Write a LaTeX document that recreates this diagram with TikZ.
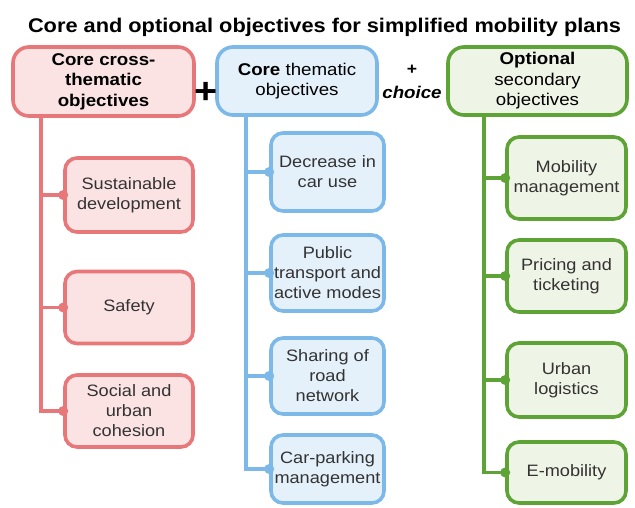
\documentclass[tikz,border=0pt]{standalone}
\usepackage{fontspec}
\setmainfont{Liberation Sans}[FakeStretch=1.1]
\definecolor{redB}{HTML}{E8777A}
\definecolor{redF}{HTML}{FBE2E3}
\definecolor{blueB}{HTML}{7CB9E8}
\definecolor{blueF}{HTML}{E4F0FA}
\definecolor{greenB}{HTML}{5EA335}
\definecolor{greenF}{HTML}{EEF4E6}
\definecolor{txt}{HTML}{333333}
\tikzset{
  box/.style={rounded corners=12pt, line width=3.6pt, align=center, inner sep=0pt,
    font=\fontsize{16.5}{20}\selectfont, text=txt},
  head/.style={box, rounded corners=16pt, font=\fontsize{17}{20.5}\selectfont, text=black},
  rbox/.style={box, draw=redB, fill=redF},
  bbox/.style={box, draw=blueB, fill=blueF},
  gbox/.style={box, draw=greenB, fill=greenF},
  rline/.style={draw=redB, line width=3.6pt},
  bline/.style={draw=blueB, line width=3.6pt},
  gline/.style={draw=greenB, line width=3.6pt},
}
\begin{document}
\begin{tikzpicture}[x=1pt,y=-1pt]
\useasboundingbox (0,0) rectangle (635,507);
\node[font=\bfseries\fontsize{19.8}{22}\selectfont, anchor=base] (title) at (324.5,32) {Core and optional objectives for simplified mobility plans};

% headers
\node[head, draw=redB, fill=redF, minimum width=181pt, minimum height=69pt] (hr) at (103.5,81.5) {\bfseries Core cross-\\\bfseries thematic\\\bfseries objectives};
\node[head, draw=blueB, fill=blueF, minimum width=160pt, minimum height=68pt] (hb) at (297,81) {\textbf{Core} thematic\\objectives};
\node[head, draw=greenB, fill=greenF, minimum width=179pt, minimum height=68pt] (hg) at (537.5,81) {\textbf{Optional}\\secondary\\objectives};

\node[font=\bfseries\fontsize{36}{36}\selectfont] (plus) at (206,93) {+};
\node[font=\bfseries\fontsize{16}{18}\selectfont] (plus2) at (412,70) {+};
\node[font=\bfseries\itshape\fontsize{17}{20}\selectfont] (choice) at (412,92) {choice};

% red children
\node[rbox, minimum width=128pt, minimum height=74pt] (r1) at (129,195) {Sustainable\\development};
\node[rbox, minimum width=128pt, minimum height=72pt] (r2) at (129,307.5) {Safety};
\node[rbox, minimum width=128pt, minimum height=72pt] (r3) at (129,411) {Social and\\urban\\cohesion};

% blue children
\node[bbox, minimum width=113pt, minimum height=78pt] (b1) at (327.5,172) {Decrease in\\car use};
\node[bbox, minimum width=113pt, minimum height=76pt] (b2) at (327.5,273) {Public\\transport and\\active modes};
\node[bbox, minimum width=113pt, minimum height=76pt] (b3) at (327.5,376) {Sharing of\\road\\network};
\node[bbox, minimum width=113pt, minimum height=68pt] (b4) at (327.5,469) {Car-parking\\management};

% green children
\node[gbox, minimum width=119pt, minimum height=82pt] (g1) at (566.5,178) {Mobility\\management};
\node[gbox, minimum width=119pt, minimum height=72pt] (g2) at (566.5,276) {Pricing and\\ticketing};
\node[gbox, minimum width=119pt, minimum height=74pt] (g3) at (566.5,380) {Urban\\logistics};
\node[gbox, minimum width=119pt, minimum height=61pt] (g4) at (566.5,472.5) {E-mobility};

% trunks
\coordinate (rt) at (41,116);
\coordinate (bt) at (246,115);
\coordinate (gt) at (484,115);

\draw[rline] (rt) |- (r3.west);
\draw[rline] (rt |- r1.west) -- (r1.west);
\draw[rline] (rt |- r2.west) -- (r2.west);
\foreach \n in {r1,r2,r3} \fill[redB] (\n.west) circle (5pt);

\draw[bline] (bt) |- (b4.west);
\foreach \n in {b1,b2,b3} \draw[bline] (bt |- \n.west) -- (\n.west);
\foreach \n in {b1,b2,b3,b4} \fill[blueB] (\n.west) circle (5pt);

\draw[gline] (gt) |- (g4.west);
\foreach \n in {g1,g2,g3} \draw[gline] (gt |- \n.west) -- (\n.west);
\foreach \n in {g1,g2,g3,g4} \fill[greenB] (\n.west) circle (5pt);
\end{tikzpicture}
\end{document}
